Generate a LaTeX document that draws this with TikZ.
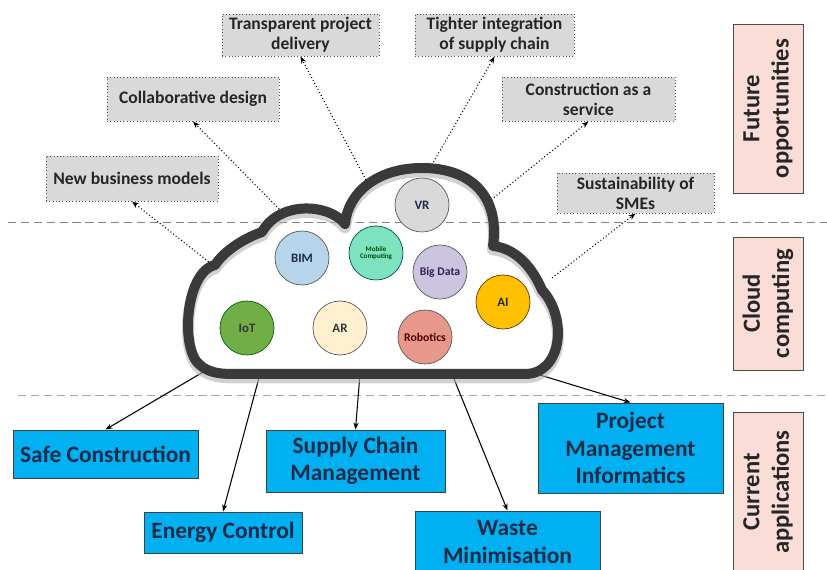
\documentclass[tikz,border=0pt]{standalone}
\usepackage{fontspec}
\setmainfont{Carlito}
\usetikzlibrary{arrows.meta}

\definecolor{boxgray}{HTML}{D9D9D9}
\definecolor{appblue}{HTML}{00B0F0}
\definecolor{navy}{HTML}{1C2B4A}
\definecolor{pinkbox}{HTML}{F9DDD6}
\definecolor{cloudline}{HTML}{3A3A3A}
\definecolor{bimblue}{HTML}{B6D5EA}
\definecolor{mobilegreen}{HTML}{7EE2C1}
\definecolor{datalilac}{HTML}{CDC4DF}
\definecolor{aiorange}{HTML}{FFC000}
\definecolor{iotgreen}{HTML}{72AE48}
\definecolor{arcream}{HTML}{FFF1CF}
\definecolor{robosalmon}{HTML}{E7988B}

% outline of the cloud, in picture units
\newcommand{\cloudpath}{(232,374) -- (525,374)
  .. controls (562,374) and (568,318) .. (542,290)
  .. controls (530,262) and (512,248) .. (493,246)
  .. controls (500,195) and (470,168) .. (422,168)
  .. controls (378,168) and (348,192) .. (345,224)
  .. controls (330,204) and (280,200) .. (262,232)
  .. controls (245,238) and (225,250) .. (215,265)
  .. controls (185,272) and (180,350) .. (200,365)
  .. controls (208,372) and (218,374) .. (232,374) -- cycle}

\tikzset{
  oppbox/.style={draw=black!70, dotted, line width=0.8pt, fill=boxgray,
    align=center, inner sep=0pt, text=black!85,
    font=\bfseries\fontsize{15}{17}\selectfont},
  appbox/.style={draw=black!75, line width=0.8pt, fill=appblue,
    align=center, inner sep=0pt, text=navy,
    font=\bfseries\fontsize{20}{23.5}\selectfont},
  layerbox/.style={draw=black!70, line width=0.8pt, fill=pinkbox,
    align=center, inner sep=0pt, rotate=90, text=black!85,
    font=\bfseries\fontsize{21}{25}\selectfont},
  tech/.style={circle, draw=black!65, line width=0.6pt, inner sep=0pt,
    minimum size=54*0.03cm, text=navy,
    font=\bfseries\fontsize{11}{12}\selectfont},
  toopp/.style={dotted, line width=0.9pt, -{Stealth[length=6pt,width=4.5pt]}},
  toapp/.style={line width=0.9pt, -{Stealth[length=6pt,width=4.5pt]}},
  layerline/.style={dashed, dash pattern=on 7pt off 4pt, line width=0.8pt}
}

\begin{document}
\begin{tikzpicture}[x=0.03cm,y=-0.03cm]
\useasboundingbox (0,0) rectangle (827,570);

% layer separators
\draw[layerline, black!50] (8,222) -- (827,222);
\draw[layerline, black!35] (18,395) -- (827,395);

% future opportunities
\node[oppbox, minimum width=157*0.03cm, minimum height=42*0.03cm] (transp) at (300.5,35) {Transparent project\\delivery};
\node[oppbox, minimum width=159*0.03cm, minimum height=42*0.03cm] (tight) at (494.5,35) {Tighter integration\\of supply chain};
\node[oppbox, minimum width=172*0.03cm, minimum height=44*0.03cm] (collab) at (193,99) {Collaborative design};
\node[oppbox, minimum width=173*0.03cm, minimum height=44*0.03cm] (caas) at (588.5,99) {Construction as a\\service};
\node[oppbox, minimum width=172*0.03cm, minimum height=45*0.03cm] (nbm) at (132,178.5) {New business models};
\node[oppbox, minimum width=157*0.03cm, minimum height=40*0.03cm] (sme) at (635.5,193) {Sustainability of\\SMEs};

% current applications
\node[appbox, minimum width=185*0.03cm, minimum height=48*0.03cm] (safe) at (105.5,454) {Safe Construction};
\node[appbox, minimum width=158*0.03cm, minimum height=41*0.03cm] (energy) at (223,532.5) {Energy Control};
\node[appbox, minimum width=179*0.03cm, minimum height=62*0.03cm] (scm) at (355.5,461) {Supply Chain\\Management};
\node[appbox, minimum width=185*0.03cm, minimum height=62*0.03cm] (waste) at (507.5,542) {Waste\\Minimisation};
\node[appbox, minimum width=185*0.03cm, minimum height=90*0.03cm] (pmi) at (630.5,448) {Project\\Management\\Informatics};

% layer labels
\node[layerbox, minimum width=169*0.03cm, minimum height=70*0.03cm] (lfuture) at (768,108.5) {Future\\opportunities};
\node[layerbox, minimum width=133*0.03cm, minimum height=70*0.03cm] (lcloud) at (768,303.5) {Cloud\\computing};
\node[layerbox, minimum width=160*0.03cm, minimum height=70*0.03cm] (lcurrent) at (768,492) {Current\\applications};

% points on the cloud outline
\coordinate (c-nbm) at (214,266);
\coordinate (c-collab) at (284,214);
\coordinate (c-transp) at (366,180);
\coordinate (c-tight) at (430,168);
\coordinate (c-caas) at (486,204);
\coordinate (c-sme) at (552,278);
\coordinate (c-safe) at (210,368);
\coordinate (c-energy) at (260,374);
\coordinate (c-scm) at (360,374);
\coordinate (c-waste) at (452,374);
\coordinate (c-pmi) at (530,372);

\draw[toopp] (c-nbm) -- (nbm.south);
\draw[toopp] (c-collab) -- (collab.south);
\draw[toopp] (c-transp) -- (transp.south);
\draw[toopp] (c-tight) -- (tight.south);
\draw[toopp] (c-caas) -- (caas.south);
\draw[toopp] (c-sme) -- (sme.south);

\draw[toapp] (c-safe) -- (safe.north);
\draw[toapp] (c-energy) -- (energy.north);
\draw[toapp] (c-scm) -- (scm.north);
\draw[toapp] (c-waste) -- (waste.north);
\draw[toapp] (c-pmi) -- (pmi.north);

% cloud
\draw[black!30, opacity=0.6, line width=0.36cm, line join=round, yshift=-0.1cm] \cloudpath;
\draw[cloudline, line width=0.3cm, line join=round] \cloudpath;

% technologies
\node[tech, fill=black!15] (vr) at (422,205) {VR};
\node[tech, fill=bimblue] (bim) at (302,258) {BIM};
\node[tech, fill=mobilegreen, draw=teal!60!black, text=green!30!black,
  font=\bfseries\fontsize{6}{6.5}\selectfont, align=center] (mobile) at (376,253) {Mobile\\Computing};
\node[tech, fill=datalilac, text=violet!30!navy] (bigdata) at (440,272) {\fontsize{10}{11}\selectfont Big Data};
\node[tech, fill=aiorange, draw=black!60!orange] (ai) at (503,302) {AI};
\node[tech, fill=iotgreen, draw=black!60!green, text=black!80] (iot) at (247,328) {IoT};
\node[tech, fill=arcream, text=black!80] (ar) at (340,328) {AR};
\node[tech, fill=robosalmon, text=red!30!black] (robotics) at (425,337) {\fontsize{10}{11}\selectfont Robotics};

\end{tikzpicture}
\end{document}
